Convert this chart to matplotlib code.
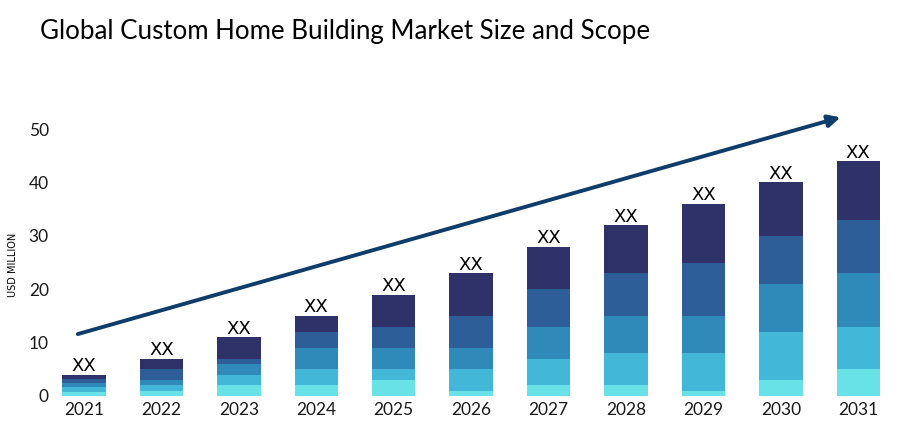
import numpy as np
import matplotlib.pyplot as plt

years = ['2021', '2022', '2023', '2024', '2025', '2026', '2027', '2028', '2029', '2030', '2031']
# stacked segments, bottom to top
seg1 = [0.8, 1, 2, 2, 3, 1, 2, 2, 1, 3, 5]
seg2 = [0.8, 1, 2, 3, 2, 4, 5, 6, 7, 9, 8]
seg3 = [0.8, 1, 2, 4, 4, 4, 6, 7, 7, 9, 10]
seg4 = [0.8, 2, 1, 3, 4, 6, 7, 8, 10, 9, 10]
seg5 = [0.8, 2, 4, 3, 6, 8, 8, 9, 11, 10, 11]
labels = ['XX'] * len(years)

colors = ['#69e2e7', '#42b7d7', '#2f8ab9', '#2d5e98', '#2e3269']

plt.rcParams['font.family'] = ['Lato', 'DejaVu Sans']

fig = plt.figure(figsize=(9, 4.25), dpi=100)
ax = fig.add_axes([60 / 900, 1 - 396 / 425, 830 / 900, 299 / 425])

x = np.arange(len(years))
bottom = np.zeros(len(years))
for seg, c in zip([seg1, seg2, seg3, seg4, seg5], colors):
    ax.bar(x, seg, bottom=bottom, width=0.56, color=c, edgecolor='none')
    bottom += np.array(seg)

for xi, tot, lab in zip(x, bottom, labels):
    ax.text(xi, tot - 0.1, lab, ha='center', va='bottom', fontsize=13,
            family='DejaVu Sans', color='black')

# trend arrow
ax.annotate('', xy=(9.77, 52.2), xytext=(-0.08, 11.6),
            arrowprops=dict(arrowstyle='-|>', color='#0e3d6b', lw=2.8,
                            mutation_scale=18, shrinkA=0, shrinkB=0))

ax.set_xlim(-0.31, 10.41)
ax.set_ylim(0, 56)
ax.set_xticks(x)
ax.set_xticklabels(years, fontsize=12.5)
ax.set_yticks([0, 10, 20, 30, 40, 50])
ax.tick_params(axis='both', length=0, labelsize=12.5, colors='#1a1a1a')
ax.tick_params(axis='y', pad=8)
ax.tick_params(axis='x', pad=4)
for s in ax.spines.values():
    s.set_visible(False)

fig.text(13 / 900, 1 - 265 / 425, 'USD MILLION', rotation=90, fontsize=7,
         ha='center', va='center', family='DejaVu Sans')
fig.text(40 / 900, 1 - 32 / 425, 'Global Custom Home Building Market Size and Scope',
         fontsize=18.6, ha='left', va='center', color='black')

fig.savefig('out.png', dpi=100)
